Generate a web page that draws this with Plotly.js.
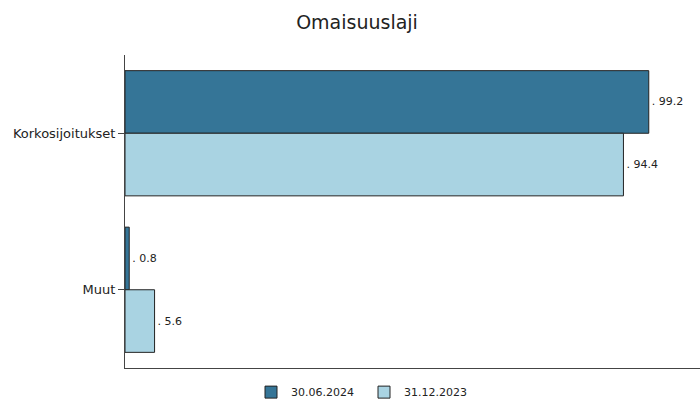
<!DOCTYPE html>
<html>
<head>
<meta charset="utf-8">
<script src="https://cdn.plot.ly/plotly-3.0.1.min.js"></script>
<style>body{margin:0;}#chart{width:700px;height:403px;}</style>
</head>
<body>
<div id="chart"></div>
<script>
var categories = ['Korkosijoitukset', 'Muut'];
var seriesNames = ['30.06.2024', '31.12.2023'];
var values2024 = [99.2, 0.8];
var values2023 = [94.4, 5.6];

function labels(vals) {
  return vals.map(function (v) { return '. ' + v.toFixed(1); });
}

var trace1 = {
  y: categories,
  x: values2024,
  name: seriesNames[0],
  type: 'bar',
  orientation: 'h',
  text: labels(values2024),
  textposition: 'outside',
  textfont: {size: 11, color: '#222'},
  cliponaxis: false,
  marker: {color: '#357597', line: {color: '#222', width: 1}},
  hoverinfo: 'x+name'
};

var trace2 = {
  y: categories,
  x: values2023,
  name: seriesNames[1],
  type: 'bar',
  orientation: 'h',
  text: labels(values2023),
  textposition: 'outside',
  textfont: {size: 11, color: '#222'},
  cliponaxis: false,
  marker: {color: '#a9d3e2', line: {color: '#222', width: 1}},
  hoverinfo: 'x+name'
};

var layout = {
  width: 700,
  height: 403,
  font: {family: 'DejaVu Sans, Verdana, sans-serif', size: 11, color: '#222'},
  title: {text: 'Omaisuuslaji', x: 0.51, xanchor: 'center', y: 0.945, yanchor: 'middle', font: {size: 19, color: '#222'}},
  margin: {l: 125, r: 0, t: 55, b: 35},
  barmode: 'group',
  bargap: 0.2,
  bargroupgap: 0,
  showlegend: true,
  legend: {
    orientation: 'h',
    x: 0.52, xref: 'container', xanchor: 'center',
    y: 0.027, yref: 'container', yanchor: 'middle',
    itemwidth: 30,
    entrywidth: 68,
    font: {size: 11}
  },
  xaxis: {
    range: [0, 108.9],
    showgrid: false,
    zeroline: false,
    showticklabels: false,
    showline: true,
    linecolor: '#444',
    linewidth: 1
  },
  yaxis: {
    autorange: 'reversed',
    showgrid: false,
    zeroline: false,
    showline: true,
    linecolor: '#444',
    linewidth: 1,
    ticks: 'outside',
    ticklen: 6,
    tickcolor: '#444',
    tickfont: {size: 13}
  },
  plot_bgcolor: '#fff',
  paper_bgcolor: '#fff'
};

Plotly.newPlot('chart', [trace1, trace2], layout, {displayModeBar: false});
</script>
</body>
</html>
